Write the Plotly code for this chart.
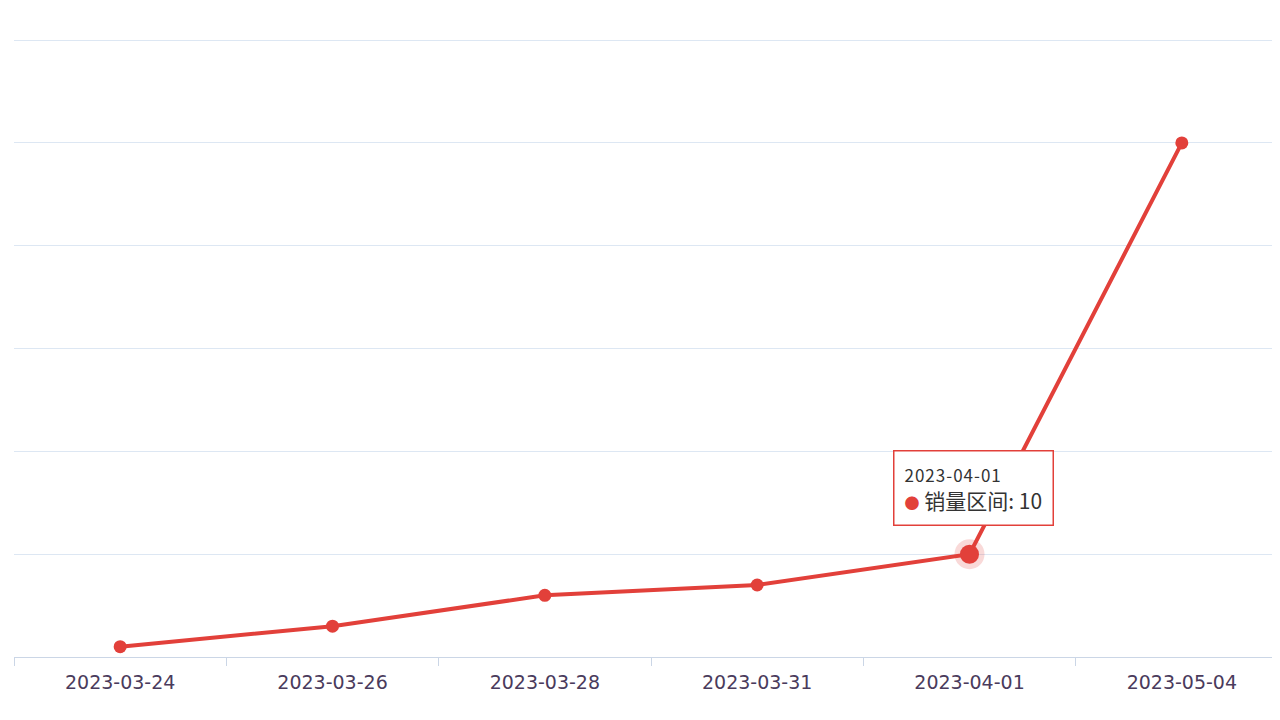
import plotly.graph_objects as go

dates = ["2023-03-24", "2023-03-26", "2023-03-28", "2023-03-31", "2023-04-01", "2023-05-04"]
sales = [1, 3, 6, 7, 10, 50]
series_name = "销量区间"
hl_idx = 4
red = "#e2403a"

fig = go.Figure()
fig.add_trace(go.Scatter(x=dates, y=sales, mode="lines+markers",
                         line=dict(color=red, width=4),
                         marker=dict(size=13, color=red), name=series_name))
fig.add_trace(go.Scatter(x=[dates[hl_idx]], y=[sales[hl_idx]], mode="markers",
                         marker=dict(size=30, color="rgba(226,64,58,0.2)"), hoverinfo="skip"))
fig.add_trace(go.Scatter(x=[dates[hl_idx]], y=[sales[hl_idx]], mode="markers",
                         marker=dict(size=19, color=red), hoverinfo="skip"))

fig.add_annotation(x=dates[hl_idx], y=sales[hl_idx], xref="x", yref="y",
                   text=f"<span style='font-size:17px;letter-spacing:1px'>{dates[hl_idx]}</span><br>"
                        f"<span style='color:{red};font-size:15px'>●</span> {series_name}: {sales[hl_idx]}",
                   showarrow=False, yanchor="bottom", yshift=28, xshift=4,
                   align="left", bgcolor="white", bordercolor="rgb(226,64,58)", borderwidth=1.5,
                   borderpad=10, font=dict(size=21, color="#333", family="Noto Sans CJK SC"))

fig.update_layout(
    width=1280, height=720, showlegend=False,
    margin=dict(l=6, r=0, t=30, b=71, autoexpand=False),
    plot_bgcolor="white", paper_bgcolor="white",
    font=dict(family="Noto Sans CJK SC"),
    xaxis=dict(type="category", range=[-0.5, 5.5], automargin=False, showgrid=False,
               showline=True, linecolor="#cbd6e6",
               ticks="outside", tickson="boundaries", ticklen=8, tickcolor="#cbd6e6",
               tickfont=dict(size=19, color="#4a3b5c", family="DejaVu Sans"), ticklabelstandoff=8),
    yaxis=dict(range=[0, 60.2], dtick=10, showticklabels=False, gridcolor="#dde7f3",
               zeroline=False, automargin=False),
)
fig.write_html("out.html")
